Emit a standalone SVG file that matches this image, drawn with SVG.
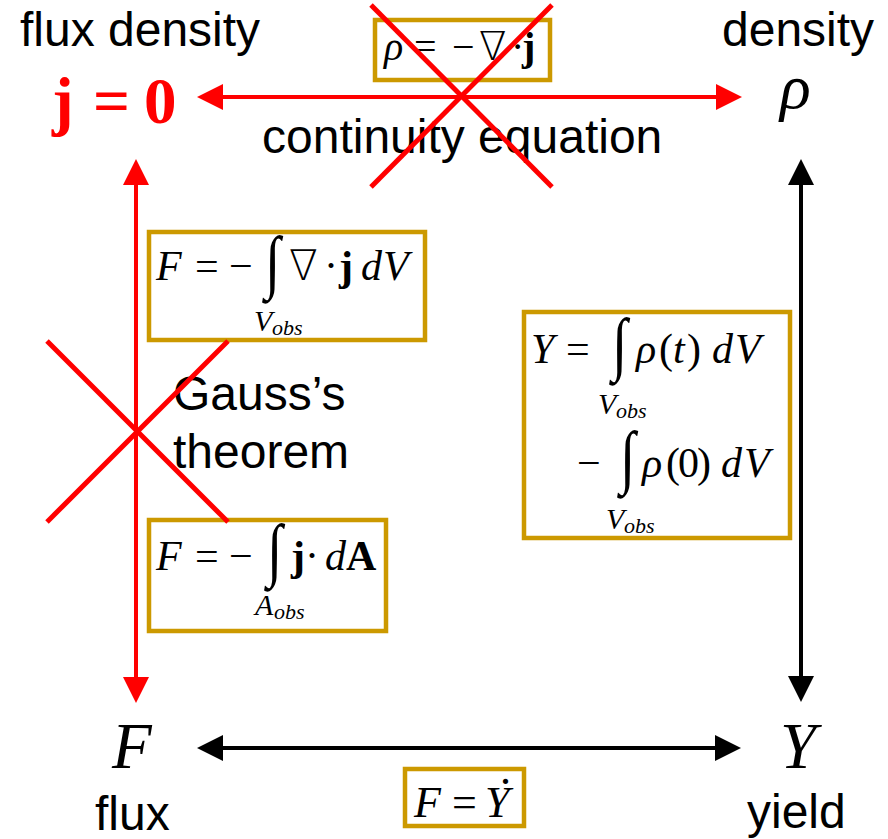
<svg xmlns="http://www.w3.org/2000/svg" width="888" height="839" viewBox="0 0 888 839">
<style>
.lbl{font-family:"Liberation Sans",Arial,sans-serif;font-size:48px;fill:#000}
.m{font-family:"Liberation Serif","DejaVu Serif",serif;fill:#000}
.i{font-style:italic}
.b{font-weight:bold}
.nab{font-family:"DejaVu Sans",sans-serif;font-weight:200;font-style:normal}
.int{font-family:"Liberation Serif","DejaVu Serif",serif;font-size:56px;fill:#000}
.sub{font-family:"Liberation Serif","DejaVu Serif",serif;font-style:italic;fill:#000}
.box{fill:#fff;stroke:#cc9900;stroke-width:4.5}
.cross{stroke:#ff0000;stroke-width:5;fill:none}
.red{stroke:#ff0000;stroke-width:4;fill:none}
.blk{stroke:#000;stroke-width:4;fill:none}
</style>
<defs>
<marker id="ahR" markerUnits="userSpaceOnUse" markerWidth="26" markerHeight="26" refX="0" refY="13" orient="auto-start-reverse"><path d="M0,0 L26,13 L0,26 z" fill="#ff0000"/></marker>
<marker id="ahK" markerUnits="userSpaceOnUse" markerWidth="26" markerHeight="26" refX="0" refY="13" orient="auto-start-reverse"><path d="M0,0 L26,13 L0,26 z" fill="#000"/></marker>
</defs>

<g id="connectors">
<line class="red" x1="223" y1="97" x2="716" y2="97" marker-start="url(#ahR)" marker-end="url(#ahR)"/>
<line class="red" x1="136" y1="185" x2="136" y2="677" marker-start="url(#ahR)" marker-end="url(#ahR)"/>
<line class="blk" x1="801" y1="185" x2="801" y2="676" marker-start="url(#ahK)" marker-end="url(#ahK)"/>
<line class="blk" x1="223" y1="748" x2="715" y2="748" marker-start="url(#ahK)" marker-end="url(#ahK)"/>
</g>

<g id="node-flux-density">
<text class="lbl" x="20" y="46">flux density</text>
<text class="m b" y="123" style="font-size:65px;fill:#ff0000"><tspan x="52">j</tspan><tspan x="93">=</tspan><tspan x="144">0</tspan></text>
</g>

<g id="node-density">
<text class="lbl" x="722" y="46">density</text>
<text class="m i" x="780" y="108" style="font-size:64px">ρ</text>
</g>

<g id="node-flux">
<text class="m i" x="112" y="768" style="font-size:65px">F</text>
<text class="lbl" x="95" y="830">flux</text>
</g>

<g id="node-yield">
<text class="m i" x="780" y="768" style="font-size:65px">Y</text>
<text class="lbl" x="747" y="828">yield</text>
</g>

<g id="label-continuity">
<text class="lbl" x="262" y="153">continuity equation</text>
</g>

<g id="label-gauss">
<text class="lbl" x="173" y="410">Gauss’s</text>
<text class="lbl" x="173" y="468">theorem</text>
</g>

<g id="box-continuity">
<rect class="box" x="375" y="20" width="175" height="60"/>
<text class="m" y="60" style="font-size:40px"><tspan class="i" x="384">ρ</tspan><tspan x="414">=</tspan><tspan x="452">−</tspan><tspan class="nab" x="479">∇</tspan><tspan x="511">·</tspan><tspan class="b" x="522">j</tspan></text>
</g>

<g id="box-flux-div">
<rect class="box" x="149" y="232" width="276" height="108"/>
<text class="m" y="280" style="font-size:42px"><tspan class="i" x="156">F</tspan><tspan x="195">=</tspan><tspan x="229">−</tspan><tspan class="nab" x="289">∇</tspan><tspan x="324">·</tspan><tspan class="b" x="339">j</tspan><tspan class="i" x="361">d</tspan><tspan class="i" x="383">V</tspan></text>
<text class="int" transform="translate(265,285) scale(1,1.25)">∫</text>
<text class="sub" x="254" y="331" style="font-size:30px">V</text><text class="sub" x="272" y="335" style="font-size:22px">obs</text>
</g>

<g id="box-flux-surface">
<rect class="box" x="149" y="520" width="237" height="111"/>
<text class="m" y="570" style="font-size:42px"><tspan class="i" x="156">F</tspan><tspan x="195">=</tspan><tspan x="229">−</tspan><tspan class="b" x="291">j</tspan><tspan x="305">·</tspan><tspan class="i" x="325">d</tspan><tspan class="b" x="346">A</tspan></text>
<text class="int" transform="translate(267,573) scale(1,1.25)">∫</text>
<text class="sub" x="255" y="615" style="font-size:30px">A</text><text class="sub" x="274" y="619" style="font-size:22px">obs</text>
</g>

<g id="box-yield">
<rect class="box" x="524" y="312" width="266" height="226"/>
<text class="m" y="363" style="font-size:42px"><tspan class="i" x="531">Y</tspan><tspan x="566">=</tspan><tspan class="i" x="636">ρ</tspan><tspan x="659">(</tspan><tspan class="i" x="673">t</tspan><tspan x="687">)</tspan><tspan class="i" x="712">d</tspan><tspan class="i" x="735">V</tspan></text>
<text class="int" transform="translate(612,367) scale(1,1.25)">∫</text>
<text class="sub" x="598" y="414" style="font-size:30px">V</text><text class="sub" x="616" y="418" style="font-size:22px">obs</text>
<text class="m" y="477" style="font-size:42px"><tspan x="577">−</tspan><tspan class="i" x="642">ρ</tspan><tspan x="666">(</tspan><tspan x="678">0</tspan><tspan x="697">)</tspan><tspan class="i" x="721">d</tspan><tspan class="i" x="744">V</tspan></text>
<text class="int" transform="translate(620,480) scale(1,1.25)">∫</text>
<text class="sub" x="606" y="529" style="font-size:30px">V</text><text class="sub" x="624" y="533" style="font-size:22px">obs</text>
</g>

<g id="box-flux-yield">
<rect class="box" x="405" y="769" width="119" height="57"/>
<text class="m" y="817" style="font-size:44px"><tspan class="i" x="414">F</tspan><tspan x="452">=</tspan><tspan class="i" x="485">Y</tspan></text>
<text class="m" x="500" y="784" style="font-size:44px">.</text>
</g>

<g id="crosses">
<line class="cross" x1="371" y1="5" x2="552" y2="187"/>
<line class="cross" x1="552" y1="5" x2="371" y2="187"/>
<line class="cross" x1="47" y1="341" x2="228" y2="522"/>
<line class="cross" x1="228" y1="341" x2="47" y2="522"/>
</g>
</svg>
